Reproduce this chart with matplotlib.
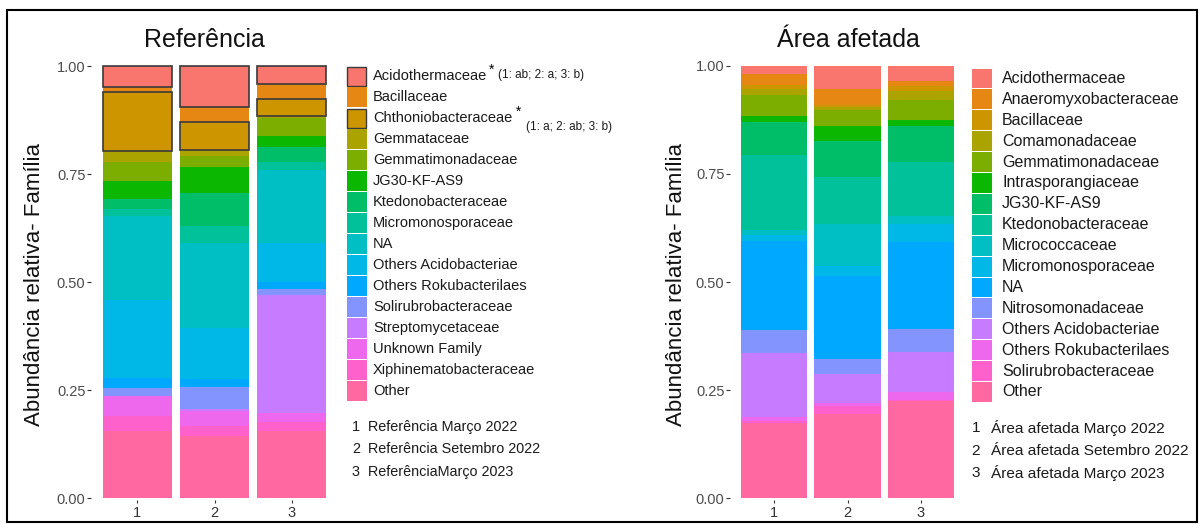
import numpy as np
import matplotlib
matplotlib.use("Agg")
import matplotlib.pyplot as plt
from matplotlib.patches import Rectangle

plt.rcParams['font.family'] = ['Liberation Sans', 'DejaVu Sans']

# families, top of stack first (ggplot order)
ref_families = ["Acidothermaceae", "Bacillaceae", "Chthoniobacteraceae", "Gemmataceae",
                "Gemmatimonadaceae", "JG30-KF-AS9", "Ktedonobacteraceae", "Micromonosporaceae",
                "NA", "Others Acidobacteriae", "Others Rokubacterilaes", "Solirubrobacteraceae",
                "Streptomycetaceae", "Unknown Family", "Xiphinematobacteraceae", "Other"]
ref_1 = [0.048, 0.010, 0.139, 0.024, 0.044, 0.041, 0.025, 0.015, 0.194, 0.181, 0.025, 0.018, 0.000, 0.045, 0.035, 0.156]
ref_2 = [0.095, 0.034, 0.065, 0.013, 0.025, 0.062, 0.075, 0.041, 0.195, 0.120, 0.018, 0.051, 0.005, 0.034, 0.024, 0.143]
ref_3 = [0.040, 0.035, 0.040, 0.004, 0.042, 0.025, 0.035, 0.019, 0.170, 0.090, 0.016, 0.013, 0.275, 0.019, 0.021, 0.156]
ref_outlined = ["Acidothermaceae", "Chthoniobacteraceae"]
ref_samples = ["Referência Março 2022", "Referência Setembro 2022", "ReferênciaMarço 2023"]

area_families = ["Acidothermaceae", "Anaeromyxobacteraceae", "Bacillaceae", "Comamonadaceae",
                 "Gemmatimonadaceae", "Intrasporangiaceae", "JG30-KF-AS9", "Ktedonobacteraceae",
                 "Micrococcaceae", "Micromonosporaceae", "NA", "Nitrosomonadaceae",
                 "Others Acidobacteriae", "Others Rokubacterilaes", "Solirubrobacteraceae", "Other"]
area_1 = [0.018, 0.027, 0.008, 0.015, 0.048, 0.014, 0.077, 0.172, 0.013, 0.013, 0.206, 0.053, 0.148, 0.010, 0.003, 0.175]
area_2 = [0.054, 0.036, 0.005, 0.008, 0.037, 0.033, 0.084, 0.109, 0.097, 0.024, 0.190, 0.035, 0.068, 0.006, 0.018, 0.196]
area_3 = [0.036, 0.010, 0.011, 0.023, 0.045, 0.015, 0.083, 0.124, 0.019, 0.042, 0.200, 0.053, 0.094, 0.017, 0.003, 0.225]
area_samples = ["Área afetada Março 2022", "Área afetada Setembro 2022", "Área afetada Março 2023"]

sample_ids = [1, 2, 3]


# ggplot2 default hue palette (hcl, c=100, l=65)
def hue_pal(n, c=100, l=65):
    hues = np.linspace(15, 375, n + 1)[:-1]
    un, vn = 0.1978398, 0.4683363
    Y = ((l + 16) / 116) ** 3
    out = []
    for h in hues:
        u = c * np.cos(np.radians(h))
        v = c * np.sin(np.radians(h))
        up = u / (13 * l) + un
        vp = v / (13 * l) + vn
        X = 9 * Y * up / (4 * vp)
        Z = -X / 3 - 5 * Y + 3 * Y / vp
        rgb = np.array([3.240479 * X - 1.537150 * Y - 0.498535 * Z,
                        -0.969256 * X + 1.875992 * Y + 0.041556 * Z,
                        0.055648 * X - 0.204043 * Y + 1.057311 * Z])
        rgb = np.where(rgb > 0.00304, 1.055 * np.abs(rgb) ** (1 / 2.4) - 0.055, 12.92 * rgb)
        out.append(tuple(np.clip(rgb, 0, 1)))
    return out


W, H = 1204, 524
fig = plt.figure(figsize=(W / 100, H / 100), dpi=100)


def px_axes(x0, x1, y_top, y_bot):
    return fig.add_axes([x0 / W, 1 - y_bot / H, (x1 - x0) / W, (y_bot - y_top) / H])


def stacked(ax, families, series, outlined=()):
    cols = hue_pal(len(families))
    data = np.array(series)  # samples x families
    bottom = np.zeros(len(sample_ids))
    for j in range(len(families) - 1, -1, -1):
        vals = data[:, j]
        if families[j] in outlined:
            ax.bar(sample_ids, vals, width=0.9, bottom=bottom, color=cols[j],
                   edgecolor='#3a3a3a', linewidth=1.2, zorder=3)
        else:
            ax.bar(sample_ids, vals, width=0.9, bottom=bottom, color=cols[j],
                   linewidth=0, zorder=2)
        bottom += vals
    ax.set_xlim(0.4, 3.6)
    ax.set_yticks([0, 0.25, 0.5, 0.75, 1.0])
    ax.set_yticklabels(['0.00', '0.25', '0.50', '0.75', '1.00'])
    ax.set_xticks(sample_ids)
    ax.set_xticklabels([str(s) for s in sample_ids])
    ax.tick_params(axis='y', length=3, width=0.8, color='#333333', labelsize=10.5,
                   labelcolor='#4D4D4D', pad=1)
    ax.tick_params(axis='x', length=2, width=0.8, color='#333333', labelsize=10.5,
                   labelcolor='#333333', pad=2)
    for s in ax.spines.values():
        s.set_visible(False)


axL = px_axes(91, 338, 62, 500)
stacked(axL, ref_families, [ref_1, ref_2, ref_3], ref_outlined)
axL.set_ylim(-0.0046, 1.0104)

axR = px_axes(730, 965, 62, 500)
stacked(axR, area_families, [area_1, area_2, area_3])
axR.set_ylim(-0.004, 1.009)

# overlay in pixel coordinates for titles, labels, legends, frame
ov = fig.add_axes([0, 0, 1, 1])
ov.set_xlim(0, W)
ov.set_ylim(H, 0)
ov.axis('off')

ov.text(204, 40, "Referência", fontsize=18, ha='center', va='center', color='#111111')
ov.text(848, 40, "Área afetada", fontsize=18, ha='center', va='center', color='#111111')
ov.text(35, 285, "Abundância relativa- Família", fontsize=16, rotation=90,
        ha='center', va='center', color='#111111')
ov.text(677, 285, "Abundância relativa- Família", fontsize=16, rotation=90,
        ha='center', va='center', color='#111111')


def legend(families, key_x, text_x, y0, row, size, outlined=()):
    cols = hue_pal(len(families))
    artists = {}
    for i, (f, c) in enumerate(zip(families, cols)):
        top = y0 + i * row
        if f in outlined:
            ov.add_patch(Rectangle((key_x, top + 1), 19, row - 2, facecolor=c,
                                   edgecolor='#3a3a3a', linewidth=1.0))
        else:
            ov.add_patch(Rectangle((key_x, top + 0.5), 20, row - 1, facecolor=c,
                                   edgecolor='none'))
        artists[f] = ov.text(text_x, top + row / 2, f, fontsize=size, ha='left',
                             va='center', color='#1a1a1a')
    return artists


def samples(labels, num_x, text_x, ys, size):
    for s, lab, y in zip(sample_ids, labels, ys):
        ov.text(num_x, y, str(s), fontsize=size, ha='center', va='center', color='#1a1a1a')
        ov.text(text_x, y, lab, fontsize=size, ha='left', va='center', color='#1a1a1a')


artL = legend(ref_families, 347, 373, 66, 20.98, 10.5, ref_outlined)
samples(ref_samples, 356, 368, [427, 449, 472], 10.4)

# significance notes
ov.annotate("*", xy=(1, 0.95), xycoords=artL["Acidothermaceae"], xytext=(1, 0),
            textcoords='offset points', fontsize=10, ha='left', va='center')
ov.annotate("(1: ab; 2: a; 3: b)", xy=(1, 0.5), xycoords=artL["Acidothermaceae"],
            xytext=(8, 1), textcoords='offset points', fontsize=8.5, ha='left', va='center',
            color='#1a1a1a')
ov.annotate(" *", xy=(1, 0.95), xycoords=artL["Chthoniobacteraceae"], xytext=(0, 0),
            textcoords='offset points', fontsize=10, ha='left', va='center')
ov.annotate("(1: a; 2: ab; 3: b)", xy=(1, 0.5), xycoords=artL["Chthoniobacteraceae"],
            xytext=(10, -6), textcoords='offset points', fontsize=8.5, ha='left', va='center',
            color='#1a1a1a')

legend(area_families, 972, 1002, 68, 20.9, 11.5)
samples(area_samples, 976, 991, [428, 451, 473], 11.1)

ov.add_patch(Rectangle((7, 10), 1190, 512, fill=False, edgecolor='black', linewidth=1.5,
                       clip_on=False))

fig.savefig("out.png", dpi=100)
